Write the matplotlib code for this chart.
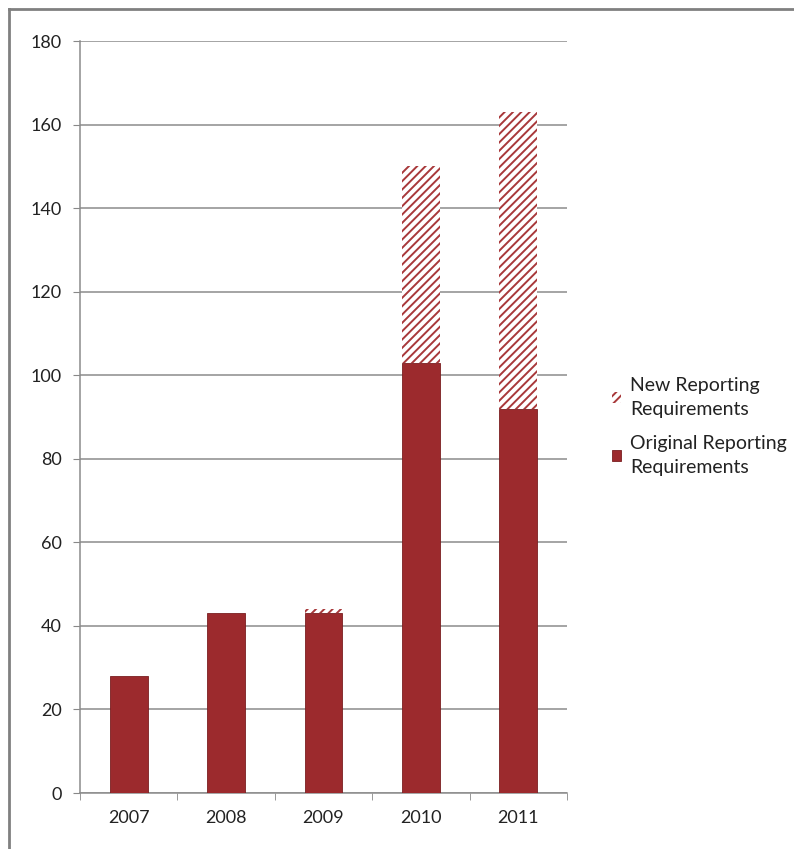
import matplotlib
matplotlib.use("Agg")
import matplotlib.pyplot as plt
from matplotlib.lines import Line2D
import numpy as np

years = ["2007", "2008", "2009", "2010", "2011"]
original = [28, 43, 43, 103, 92]
new = [0, 0, 1, 47, 71]

DARKRED = "#9c2a2d"
plt.rcParams["font.family"] = ["Lato", "DejaVu Sans"]
plt.rcParams["hatch.linewidth"] = 1.4
plt.rcParams["hatch.color"] = "#a8383a"

fig = plt.figure(figsize=(7.94, 8.49), dpi=100)
ax = fig.add_axes([80 / 794, 56 / 849, 487 / 794, 752 / 849])

xs = np.arange(len(years))
ax.bar(xs, original, 0.39, color=DARKRED, edgecolor="#7a1e21", lw=0.6,
       label="Original Reporting\nRequirements", zorder=3)
ax.bar(xs, new, 0.39, bottom=original, color="white", edgecolor="#a8383a",
       hatch="////", lw=0, label="New Reporting\nRequirements", zorder=3)

ax.set_xlim(-0.5, len(years) - 0.5)
ax.set_ylim(0, 180)
ax.set_yticks(range(0, 181, 20))
ax.set_xticks(xs)
ax.set_xticklabels(years)
ax.set_xticks(np.arange(-0.5, len(years)), minor=True)
ax.tick_params(axis="x", which="major", length=0, pad=12, labelsize=13, colors="#222222")
ax.tick_params(axis="x", which="minor", length=5, color="#888888")
ax.tick_params(axis="y", length=5, color="#888888", pad=8, labelsize=13, labelcolor="#222222")
ax.grid(axis="y", color="#8c8c8c", lw=1.1, zorder=0)
for s in ["top", "right"]:
    ax.spines[s].set_visible(False)
for s in ["left", "bottom"]:
    ax.spines[s].set_color("#8c8c8c")
    ax.spines[s].set_linewidth(1.1)

handles, labels = ax.get_legend_handles_labels()
leg = fig.legend(handles[::-1], labels[::-1], loc="upper left", bbox_to_anchor=(594 / 794, 1 - 360 / 849),
                 frameon=False, fontsize=14, handlelength=0.5, handleheight=0.5,
                 handletextpad=0.45, labelspacing=0.9, labelcolor="#222222")
for t in leg.get_texts():
    t.set_linespacing(1.45)

# outer chart frame (top and left only visible)
fig.add_artist(Line2D([9 / 794, 9 / 794], [0, 1 - 9 / 849], transform=fig.transFigure,
                      color="#808080", lw=2))
fig.add_artist(Line2D([9 / 794, 1], [1 - 9 / 849, 1 - 9 / 849], transform=fig.transFigure,
                      color="#808080", lw=2))

fig.savefig("out.png", dpi=100)
